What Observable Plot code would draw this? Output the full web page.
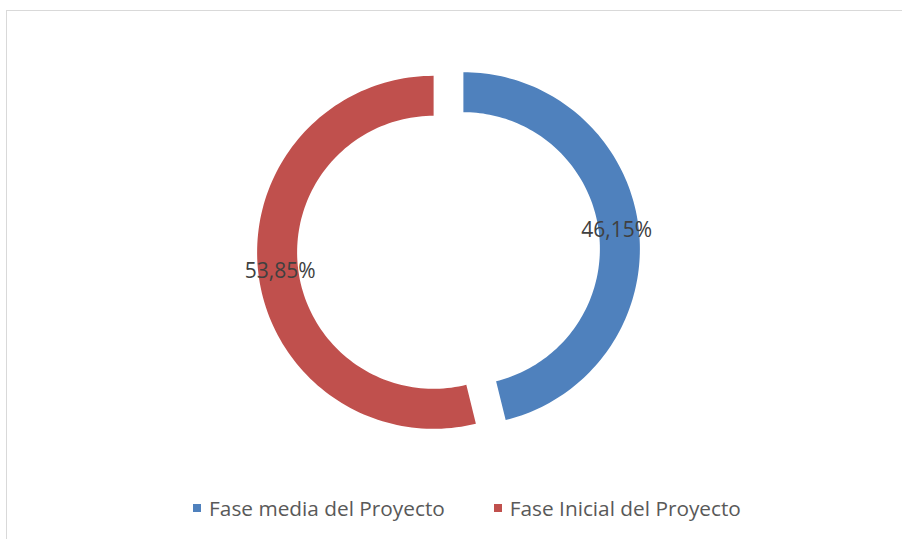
<!DOCTYPE html>
<html>
<head>
<meta charset="utf-8">
<script src="https://cdn.jsdelivr.net/npm/d3@7"></script>
<script src="https://cdn.jsdelivr.net/npm/@observablehq/plot@0.6"></script>
<style>
  html, body { margin: 0; padding: 0; background: #fff; overflow: hidden; }
  #wrap { position: relative; width: 902px; height: 539px; font-family: "Open Sans", sans-serif; }
  #frame { position: absolute; left: 6px; top: 10px; width: 1000px; height: 1000px;
           border-left: 1.5px solid #d9d9d9; border-top: 1.5px solid #d9d9d9; }
  #chart { position: absolute; left: 0; top: 0; }
  #legend { position: absolute; left: 16px; top: 493px; width: 902px; height: 30px;
            display: flex; justify-content: center; align-items: center; gap: 49px;
            font-size: 20.8px; color: #595959; }
  .item { display: flex; align-items: center; }
  .sw { width: 8px; height: 8px; margin-right: 8px; }
</style>
</head>
<body>
<div id="wrap">
  <div id="frame"></div>
  <div id="chart"></div>
  <div id="legend"></div>
</div>
<script>
const categorias = ["Fase media del Proyecto", "Fase Inicial del Proyecto"];
const valores = [46.15, 53.85];
const etiquetas = ["46,15%", "53,85%"];
const colores = ["#4F81BD", "#C0504D"];

const W = 902, H = 492;
const cx = 448, cy = 250;          // pixel centre of the ring
const rOuter = 176.5, rInner = 136.5, explode = 15;

const arcs = d3.pie().sort(null).value(d => d)(valores);

const puntos = [];
const rotulos = [];
arcs.forEach((a, i) => {
  const mid = (a.startAngle + a.endAngle) / 2;
  const ox = explode * Math.sin(mid), oy = explode * Math.cos(mid);
  const n = 120;
  for (let k = 0; k <= n; k++) {
    const t = a.startAngle + (a.endAngle - a.startAngle) * k / n;
    puntos.push({serie: categorias[i], u: ox + rOuter * Math.sin(t), v: oy + rOuter * Math.cos(t)});
  }
  for (let k = n; k >= 0; k--) {
    const t = a.startAngle + (a.endAngle - a.startAngle) * k / n;
    puntos.push({serie: categorias[i], u: ox + rInner * Math.sin(t), v: oy + rInner * Math.cos(t)});
  }
  const rm = (rOuter + rInner) / 2 - 2;
  rotulos.push({texto: etiquetas[i], u: ox + rm * Math.sin(mid), v: oy + rm * Math.cos(mid)});
});

const plot = Plot.plot({
  width: W, height: H,
  margin: 0,
  style: {background: "transparent", fontFamily: "'Open Sans', sans-serif"},
  x: {domain: [-cx, W - cx], axis: null},
  y: {domain: [cy - H, cy], axis: null},
  color: {domain: categorias, range: colores},
  marks: [
    Plot.line(puntos, {x: "u", y: "v", z: "serie", fill: "serie", stroke: "none", curve: "linear"}),
    Plot.text(rotulos, {x: "u", y: "v", text: "texto", fontSize: 21, fill: "#404040"})
  ]
});
document.getElementById("chart").appendChild(plot);

const legend = document.getElementById("legend");
categorias.forEach((c, i) => {
  const it = document.createElement("div");
  it.className = "item";
  const sw = document.createElement("span");
  sw.className = "sw";
  sw.style.background = colores[i];
  const tx = document.createElement("span");
  tx.textContent = c;
  it.appendChild(sw); it.appendChild(tx);
  legend.appendChild(it);
});
</script>
</body>
</html>
